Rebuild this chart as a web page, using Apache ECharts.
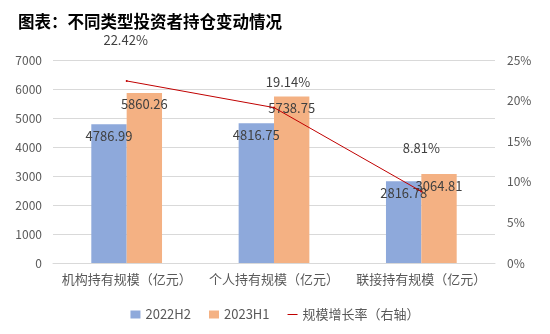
<!DOCTYPE html>
<html><head><meta charset="utf-8">
<script src="https://cdn.jsdelivr.net/npm/echarts@6/dist/echarts.min.js"></script>
<style>html,body{margin:0;padding:0;background:#fff}#c{width:550px;height:334px}</style>
</head><body><div id="c"></div>
<script>
var categories = ['机构持有规模（亿元）', '个人持有规模（亿元）', '联接持有规模（亿元）'];
var h2022 = [4786.99, 4816.75, 2816.78];
var h2023 = [5860.26, 5738.75, 3064.81];
var growth = [22.42, 19.14, 8.81];
var leftTicks = [0, 7000, 1000];
var rightTicks = [0, 25, 5];

var font = '"Microsoft YaHei","Noto Sans CJK SC",sans-serif';
var chart = echarts.init(document.getElementById('c'));
var lineOffsets = [[-1, -17], [14, -2], [0, -20]];
chart.setOption({
  animation: false,
  title: {text: '图表：不同类型投资者持仓变动情况', left: 13, top: 8,
    textStyle: {fontSize: 16.5, fontWeight: 'bold', color: '#000', fontFamily: font}},
  grid: {left: 53, right: 55, top: 60, bottom: 71},
  legend: {bottom: 8, left: 'center', itemGap: 18, itemWidth: 10, itemHeight: 8,
    textStyle: {fontSize: 13, color: '#595959', fontFamily: font},
    data: [{name: '2022H2', icon: 'rect'}, {name: '2023H1', icon: 'rect'},
           {name: '规模增长率（右轴）', icon: 'path://M0,0H20V2H0Z', itemStyle: {color: '#C00000', opacity: 1}}]},
  xAxis: {type: 'category', data: categories,
    axisLine: {lineStyle: {color: '#d9d9d9'}}, axisTick: {show: false},
    axisLabel: {fontSize: 13, color: '#595959', fontFamily: font, margin: 10, interval: 0}},
  yAxis: [
    {type: 'value', min: leftTicks[0], max: leftTicks[1], interval: leftTicks[2],
     axisLabel: {fontSize: 12, color: '#595959', fontFamily: font, margin: 11, formatter: function(v){return String(v);}},
     splitLine: {lineStyle: {color: '#d9d9d9'}}, axisLine: {show: false}, axisTick: {show: false}},
    {type: 'value', min: rightTicks[0], max: rightTicks[1], interval: rightTicks[2],
     axisLabel: {fontSize: 12, color: '#595959', fontFamily: font, formatter: '{value}%', margin: 12},
     splitLine: {show: false}, axisLine: {show: false}, axisTick: {show: false}}
  ],
  series: [
    {name: '2022H2', type: 'bar', data: h2022, barGap: '0%', barCategoryGap: '52%',
     itemStyle: {color: '#8EA9DB'},
     label: {show: true, position: 'insideTop', distance: 5, fontSize: 13, color: '#404040', fontFamily: font,
       formatter: function(p){return p.value.toFixed(2);}}},
    {name: '2023H1', type: 'bar', data: h2023,
     itemStyle: {color: '#F4B183'},
     label: {show: true, position: 'insideTop', distance: 5, fontSize: 13, color: '#404040', fontFamily: font,
       formatter: function(p){return p.value.toFixed(2);}}},
    {name: '规模增长率（右轴）', type: 'line', yAxisIndex: 1, symbol: 'circle', symbolSize: 2, showSymbol: true,
     lineStyle: {color: '#C00000', width: 1}, itemStyle: {color: '#C00000'},
     data: growth.map(function(v, i){return {value: v, label: {show: true, offset: lineOffsets[i]}};}),
     label: {show: true, position: 'top', distance: 16, fontSize: 13, color: '#404040', fontFamily: font,
       formatter: function(p){return p.value.toFixed(2) + '%';}}, z: 5}
  ]
});
</script></body></html>
